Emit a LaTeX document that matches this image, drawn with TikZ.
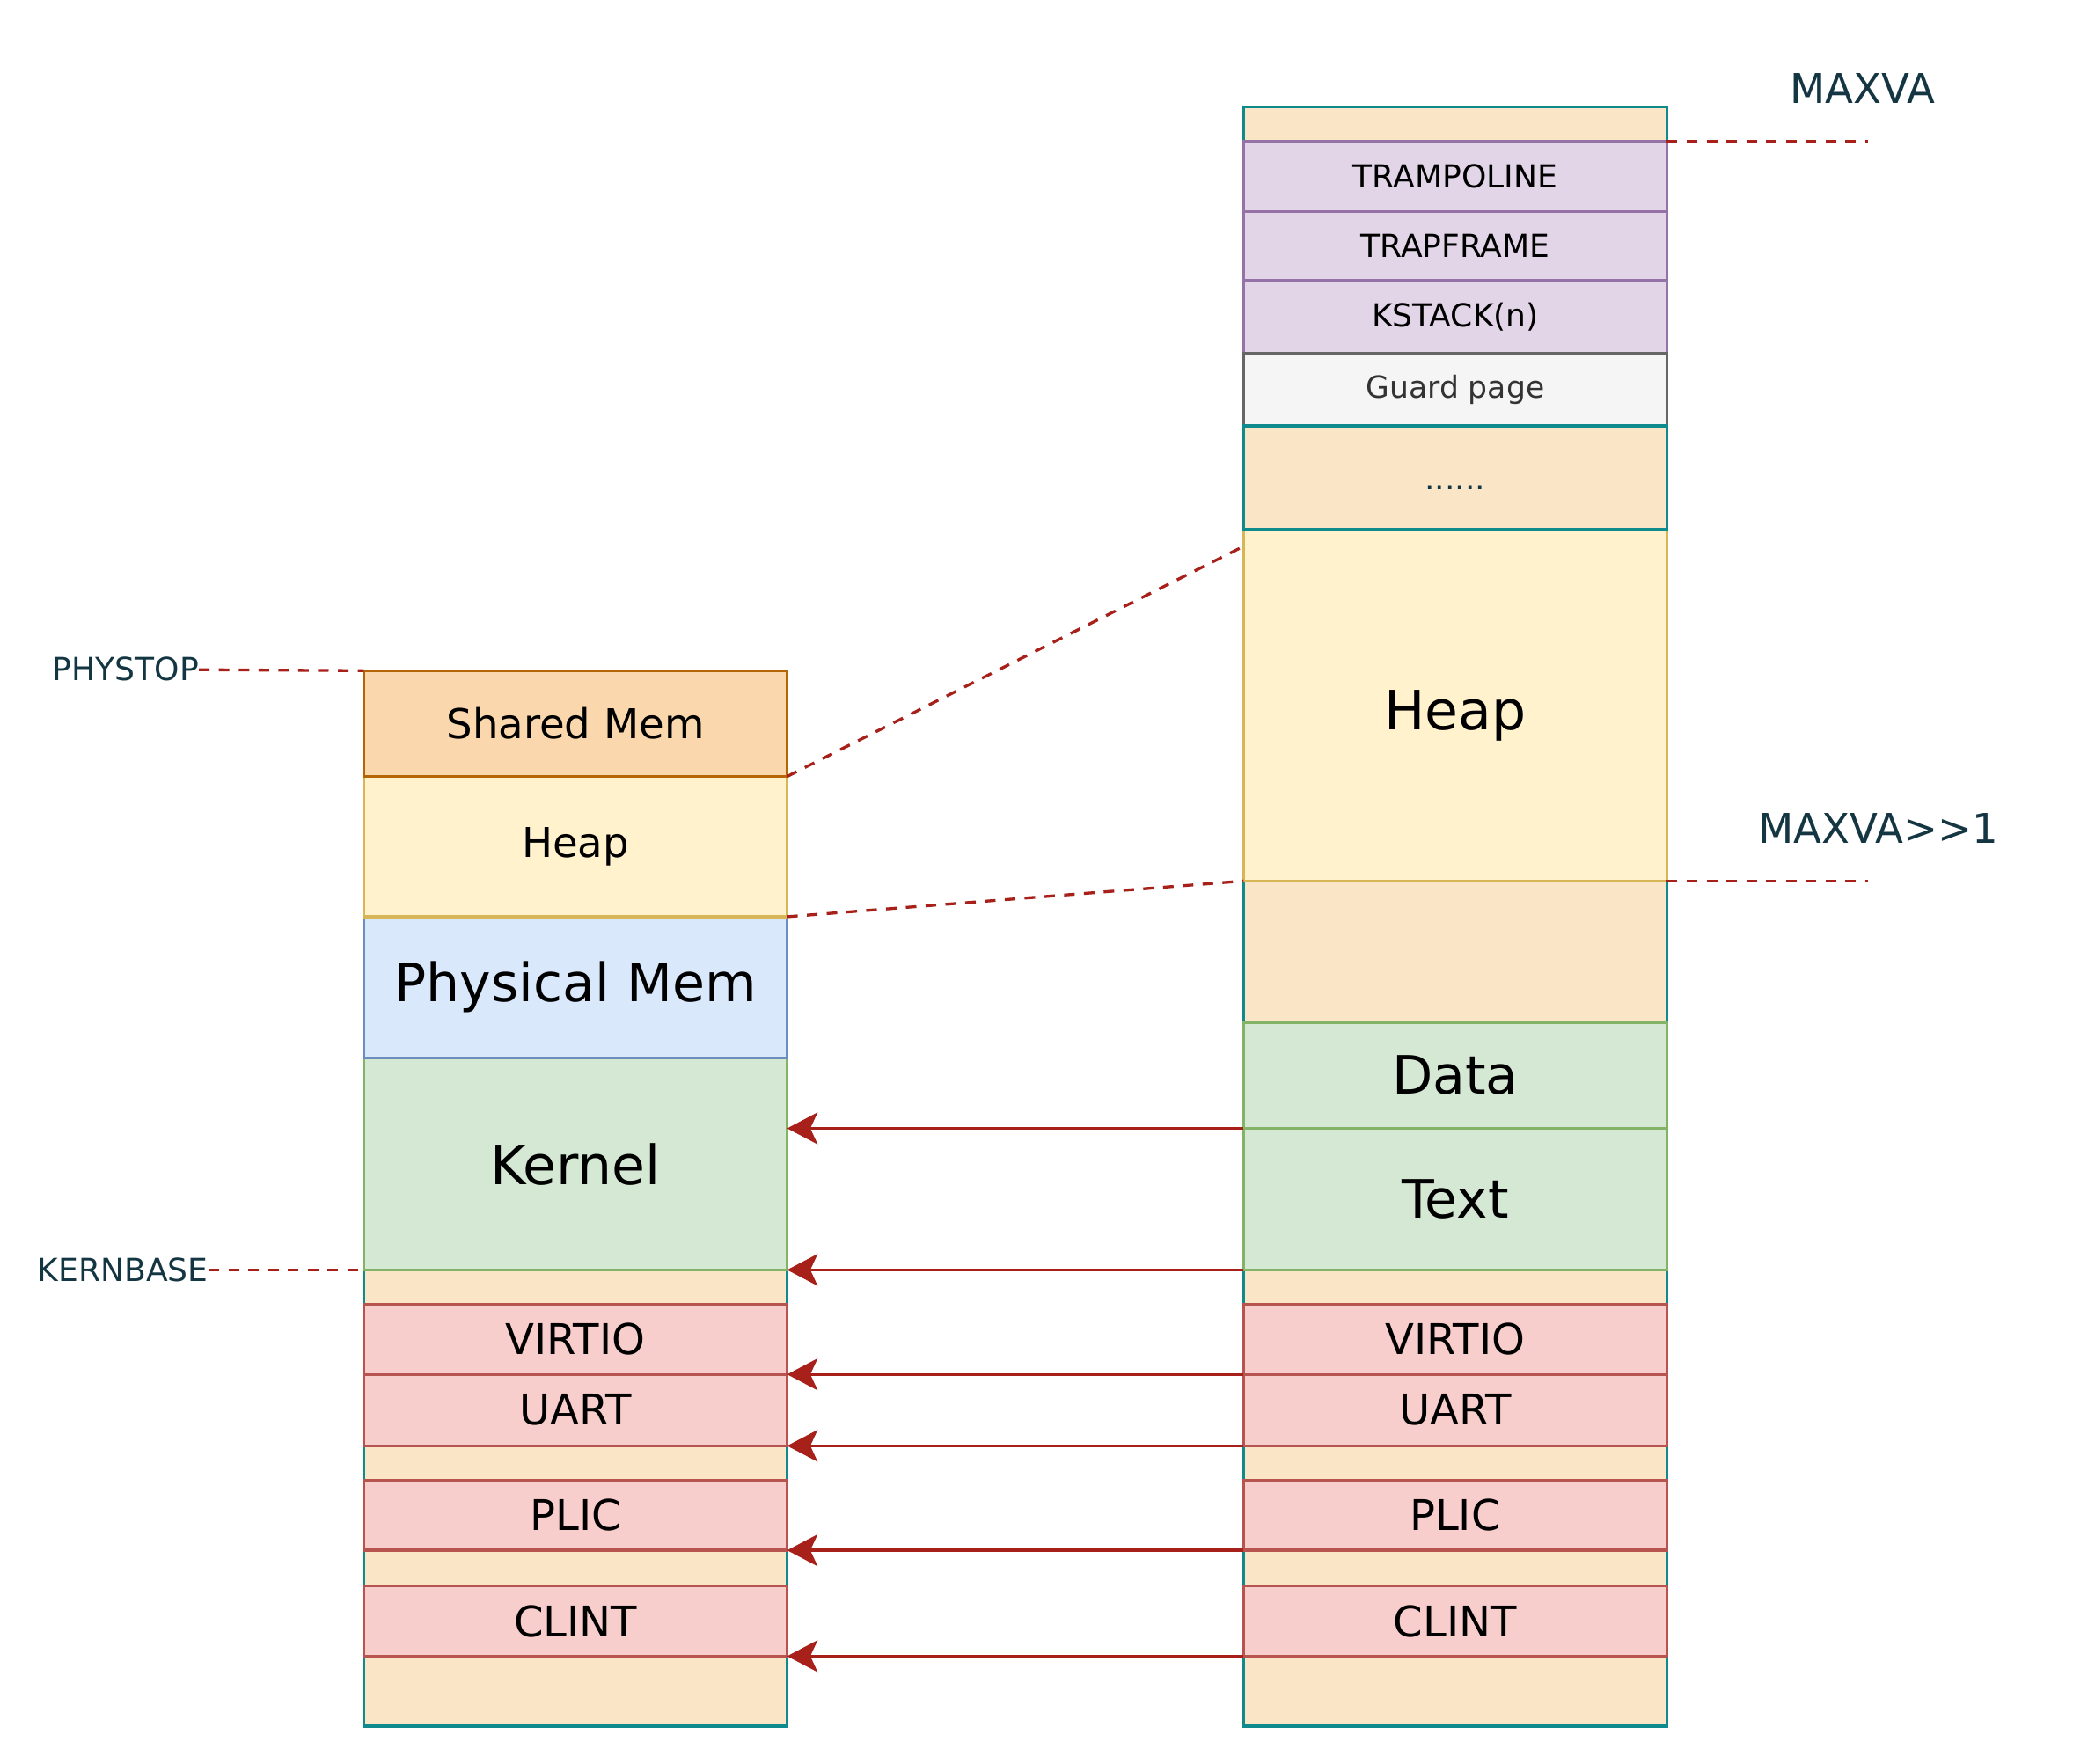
\documentclass[tikz,border=0pt]{standalone}
\usepackage{fontspec}
\setmainfont{DejaVu Sans}
\usetikzlibrary{positioning,arrows.meta}

\definecolor{beige}{HTML}{FAE5C7}
\definecolor{tealline}{HTML}{0F8B8D}
\definecolor{ink}{HTML}{143642}
\definecolor{redline}{HTML}{A8201A}
\definecolor{purpfill}{HTML}{E1D5E7}
\definecolor{purpline}{HTML}{9673A6}
\definecolor{grayfill}{HTML}{F5F5F5}
\definecolor{grayline}{HTML}{666666}
\definecolor{orngfill}{HTML}{FAD7AC}
\definecolor{orngline}{HTML}{B46504}
\definecolor{yellfill}{HTML}{FFF2CC}
\definecolor{yellline}{HTML}{D6B656}
\definecolor{bluefill}{HTML}{DAE8FC}
\definecolor{blueline}{HTML}{6C8EBF}
\definecolor{grnfill}{HTML}{D5E8D4}
\definecolor{grnline}{HTML}{82B366}
\definecolor{devfill}{HTML}{F8CECC}
\definecolor{devline}{HTML}{B85450}

\begin{document}
\begin{tikzpicture}[
     x = 1pt, y = -1pt,
     blk/.style = {rectangle, draw, line width = 2.2pt, outer sep = 0pt,
                   inner sep = 0pt, minimum width = 320pt},
     col/.style = {blk, draw = tealline, fill = beige},
     purp/.style = {blk, draw = purpline, fill = purpfill, font = \fontsize{24}{28}\selectfont},
     guardbox/.style = {blk, draw = grayline, fill = grayfill, text = black!80,
                        font = \fontsize{23}{27}\selectfont},
     orng/.style = {blk, draw = orngline, fill = orngfill, font = \fontsize{31}{36}\selectfont},
     yell/.style = {blk, draw = yellline, fill = yellfill},
     blue/.style = {blk, draw = blueline, fill = bluefill},
     grn/.style = {blk, draw = grnline, fill = grnfill},
     dev/.style = {blk, draw = devline, fill = devfill, font = \fontsize{32}{38}\selectfont},
     big/.style = {font = \fontsize{40}{46}\selectfont},
     mid/.style = {font = \fontsize{31}{36}\selectfont},
     lbl/.style = {text = ink, inner sep = 0pt, font = \fontsize{24}{28}\selectfont},
     biglbl/.style = {text = ink, inner sep = 0pt, font = \fontsize{31}{36}\selectfont},
     guide/.style = {draw = redline, line width = 2.2pt, dash pattern = on 8pt off 7pt},
     map/.style = {draw = redline, line width = 2.2pt,
                   -{Stealth[length = 23pt, width = 24pt, inset = 5.5pt]}}
    ]
    \useasboundingbox (0,0) rectangle (1567,1333);

    % virtual address space
    \node [col, minimum height = 1224pt, anchor = north west] (colV) at (940,81) {};
    \node [purp, minimum height = 53pt, anchor = north west] (trampo) at (940,107) {TRAMPOLINE};
    \node [purp, minimum height = 52pt, below = 0pt of trampo] (trapfr) {TRAPFRAME};
    \node [purp, minimum height = 55pt, below = 0pt of trapfr] (kstack) {KSTACK(n)};
    \node [guardbox, minimum height = 55pt, below = 0pt of kstack] (guard) {Guard page};
    \node [yell, minimum height = 266pt, below = 78pt of guard, text height = 38pt,
           text depth = 0pt, font = \fontsize{41}{47}\selectfont] (heapV) {Heap};
    \node [col, minimum height = 78pt, below = 0pt of guard, text = ink, text height = 18pt,
           text depth = 0pt, font = \fontsize{24}{28}\selectfont] (dots) {......};
    \node [grn, big, minimum height = 80pt, below = 107pt of heapV] (dataV) {Data};
    \node [grn, big, minimum height = 107pt, below = 0pt of dataV] (textV) {Text};
    \node [dev, minimum height = 53pt, below = 26pt of textV] (virtioV) {VIRTIO};
    \node [dev, minimum height = 54pt, below = 0pt of virtioV] (uartV) {UART};
    \node [dev, minimum height = 53pt, below = 26pt of uartV] (plicV) {PLIC};
    \node [dev, minimum height = 53pt, below = 27pt of plicV] (clintV) {CLINT};

    % physical memory
    \node [col, minimum height = 798pt, anchor = north west] (colP) at (275,507) {};
    \node [grn, minimum height = 160pt, anchor = north west,
           font = \fontsize{41}{47}\selectfont] (kernel) at (275,800) {Kernel};
    \node [blue, big, minimum height = 107pt, above = 0pt of kernel] (phys) {Physical Mem};
    \node [yell, mid, minimum height = 106pt, above = 0pt of phys] (heapP) {Heap};
    \node [orng, minimum height = 80pt, above = 0pt of heapP] (shared) {Shared Mem};
    \node [dev, minimum height = 53pt, below = 26pt of kernel] (virtioP) {VIRTIO};
    \node [dev, minimum height = 54pt, below = 0pt of virtioP] (uartP) {UART};
    \node [dev, minimum height = 53pt, below = 26pt of uartP] (plicP) {PLIC};
    \node [dev, minimum height = 53pt, below = 27pt of plicP] (clintP) {CLINT};

    % limits
    \node [lbl] (physlbl) at (95,506) {PHYSTOP};
    \node [lbl] (kbaselbl) at (93,960) {KERNBASE};
    \node [biglbl] (maxva) at (1408,67) {MAXVA};
    \node [biglbl] (maxvahalf) at (1420,626) {MAXVA>{}>1};
    \coordinate (maxvatip) at (1412,107);
    \coordinate (halftip) at (1412,666);
    \coordinate (heapcut) at (940,413);

    \draw [guide] (physlbl) -- (shared.north west);
    \draw [guide] (kbaselbl) -- (kernel.south west);
    \draw [guide] (trampo.north east) -- (maxvatip);
    \draw [guide] (heapV.south east) -- (halftip);
    \draw [guide] (shared.south east) -- (heapcut);
    \draw [guide] (heapP.south east) -- (heapV.south west);

    % mappings
    \draw [map] (textV.north west) -- (textV.north west -| kernel.east);
    \foreach \v/\p in {textV.south west/kernel.south east,
                       uartV.north west/uartP.north east,
                       uartV.south west/uartP.south east,
                       plicV.south west/plicP.south east,
                       clintV.south west/clintP.south east}
      \draw [map] (\v) -- (\p);

\end{tikzpicture}
\end{document}
